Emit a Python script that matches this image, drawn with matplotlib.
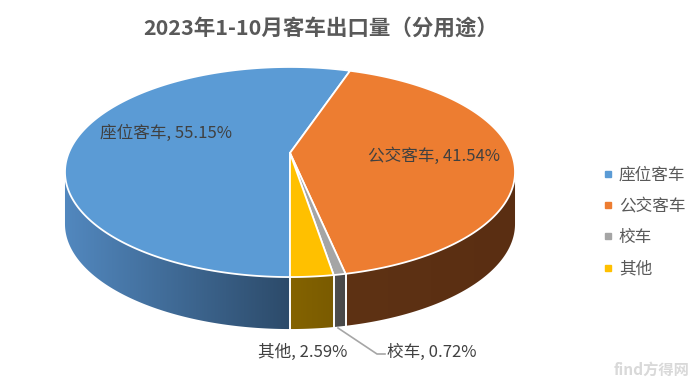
import matplotlib
matplotlib.use('Agg')
import matplotlib.pyplot as plt
import matplotlib.colors as mcolors
from matplotlib.lines import Line2D
from matplotlib.patches import Polygon
import numpy as np

plt.rcParams['font.family'] = ['Noto Sans CJK SC', 'DejaVu Sans']

# data
categories = ['座位客车', '公交客车', '校车', '其他']
shares = [55.15, 41.54, 0.72, 2.59]
top_colors = ['#5b9bd5', '#ed7d31', '#a5a5a5', '#ffc000']
side_left = ['#5288bf', '#5e3214', '#4f4f4f', '#846300']
side_right = ['#2c4a69', '#5a2e12', '#474747', '#7a5b00']
title = '2023年1-10月客车出口量（分用途）'

# 3d pie geometry (pixel space)
cx, cy = 290, 153
k = 0.181
B = 101.6
A = 221.3
depth = 52
start = 180.0  # clockwise from 12 o'clock


def proj(theta, dz=0.0):
    t = np.radians(theta)
    u = np.sin(t)
    v = np.cos(t)
    w = 1 + k * v
    return cx + A * u / w, cy - B * v / w + dz


def main():
    fig = plt.figure(figsize=(7.0, 3.83), dpi=100)
    ax = fig.add_axes([0, 0, 1, 1])
    ax.set_xlim(0, 700)
    ax.set_ylim(383, 0)
    ax.axis('off')

    angles = np.array(shares) / sum(shares) * 360
    bounds = start + np.concatenate([[0], np.cumsum(angles)])

    lo = np.degrees(np.arccos(-k))
    hi = 360 - lo

    # side faces with a left-right gradient
    for i in range(len(shares)):
        a, b = bounds[i], bounds[i + 1]
        for off in (0, 360):
            s0, s1 = max(a, lo + off), min(b, hi + off)
            if s1 <= s0:
                continue
            ts = np.linspace(s0, s1, max(3, int((s1 - s0) / 0.5)))
            top = [proj(t) for t in ts]
            bot = [proj(t, depth) for t in ts[::-1]]
            pts = np.array(top + bot)
            poly = Polygon(pts, closed=True, fc='none', ec='none')
            ax.add_patch(poly)
            x0, x1 = pts[:, 0].min(), pts[:, 0].max()
            y0, y1 = pts[:, 1].min(), pts[:, 1].max()
            cl = np.array(mcolors.to_rgb(side_left[i]))
            cr = np.array(mcolors.to_rgb(side_right[i]))
            f = np.linspace(0, 1, 256)[None, :, None]
            img = cl[None, None, :] * (1 - f) + cr[None, None, :] * f
            im = ax.imshow(img, extent=(x0 - 1, x1 + 1, y1 + 1, y0 - 1),
                           aspect='auto', zorder=1, interpolation='bilinear')
            im.set_clip_path(poly)
            # white separators on the side
            for t in (s0, s1):
                if abs(t - lo - off) > 0.01 and abs(t - hi - off) > 0.01:
                    xa, ya = proj(t)
                    xb, yb = proj(t, depth)
                    ax.plot([xa, xb], [ya, yb], color='white', lw=1.2, zorder=2)

    ax.set_xlim(0, 700)
    ax.set_ylim(383, 0)

    # top faces
    for i in range(len(shares)):
        a, b = bounds[i], bounds[i + 1]
        ts = np.linspace(a, b, max(3, int((b - a) / 0.5)))
        pts = [proj(t) for t in ts]
        xs = [cx] + [p[0] for p in pts]
        ys = [cy] + [p[1] for p in pts]
        ax.fill(xs, ys, color=top_colors[i], ec='white', lw=1.3, zorder=3,
                joinstyle='round')

    # data labels
    lab_col = '#404040'
    fs = 12
    ax.text(100, 133, f'{categories[0]}, {shares[0]:.2f}%', fontsize=fs,
            color=lab_col, va='center', ha='left', zorder=5)
    ax.text(368, 156, f'{categories[1]}, {shares[1]:.2f}%', fontsize=fs,
            color=lab_col, va='center', ha='left', zorder=5)
    ax.text(258, 352, f'{categories[3]}, {shares[3]:.2f}%', fontsize=fs,
            color=lab_col, va='center', ha='left', zorder=5)
    ax.text(387, 352, f'{categories[2]}, {shares[2]:.2f}%', fontsize=fs,
            color=lab_col, va='center', ha='left', zorder=5)
    ax.plot([338, 377, 385], [328, 354, 354], color='#a6a6a6', lw=1.2, zorder=4)

    ax.text(321, 28, title, fontsize=15.5, fontweight='bold', color='#595959',
            ha='center', va='center')

    handles = [Line2D([], [], marker='s', ls='', markersize=5,
                      markerfacecolor=c, markeredgecolor=c) for c in top_colors]
    ax.legend(handles, categories, loc='center left', bbox_to_anchor=(0.84, 0.42),
              frameon=False, fontsize=fs, labelcolor='#595959',
              handlelength=0.6, handletextpad=0.35, labelspacing=0.86)

    # watermark
    ax.text(690, 370, 'find方得网', fontsize=11, color='#d9d9d9',
            ha='right', va='center', fontweight='bold')

    fig.savefig('out.png', dpi=100)


if __name__ == "__main__":
    main()
